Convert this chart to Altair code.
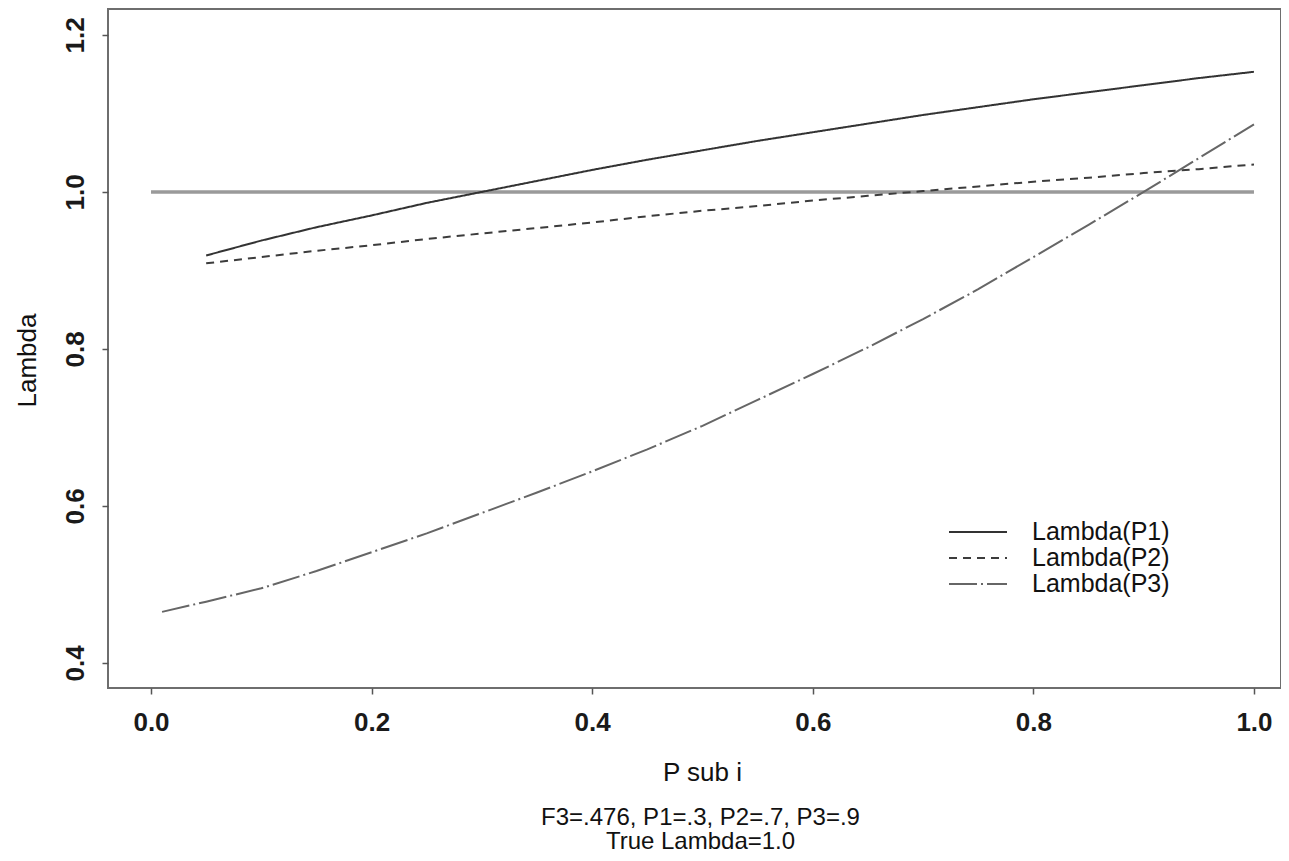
import altair as alt
import pandas as pd

# ---- data ----
x_main = [0.05, 0.10, 0.15, 0.20, 0.25, 0.30, 0.35, 0.40, 0.45, 0.50,
          0.55, 0.60, 0.65, 0.70, 0.75, 0.80, 0.85, 0.90, 0.95, 1.00]
lambda_p1 = [0.919, 0.938, 0.955, 0.970, 0.986, 1.000, 1.014, 1.028, 1.041, 1.053,
             1.065, 1.076, 1.087, 1.098, 1.108, 1.118, 1.127, 1.136, 1.145, 1.153]
lambda_p2 = [0.909, 0.917, 0.925, 0.932, 0.940, 0.947, 0.954, 0.961, 0.969, 0.976,
             0.982, 0.989, 0.995, 1.001, 1.007, 1.013, 1.018, 1.024, 1.029, 1.035]
x_p3 = [0.01, 0.05, 0.10, 0.15, 0.20, 0.25, 0.30, 0.35, 0.40, 0.45, 0.50,
        0.55, 0.60, 0.65, 0.70, 0.75, 0.80, 0.85, 0.90, 0.95, 1.00]
lambda_p3 = [0.465, 0.478, 0.495, 0.517, 0.541, 0.565, 0.591, 0.617, 0.644, 0.672, 0.702,
             0.735, 0.768, 0.802, 0.838, 0.876, 0.917, 0.958, 1.000, 1.043, 1.086]
true_x = [0.0, 1.0]
true_lambda = [1.0, 1.0]

series_names = ["Lambda(P1)", "Lambda(P2)", "Lambda(P3)"]
x_ticks = [0.0, 0.2, 0.4, 0.6, 0.8, 1.0]
y_ticks = [0.4, 0.6, 0.8, 1.0, 1.2]
x_title = "P sub i"
y_title = "Lambda"
notes = ["F3=.476, P1=.3, P2=.7, P3=.9", "True Lambda=1.0"]

# ---- tables ----
rows = []
for xv, yv in zip(x_main, lambda_p1):
    rows.append({"x": xv, "y": yv, "series": series_names[0]})
for xv, yv in zip(x_main, lambda_p2):
    rows.append({"x": xv, "y": yv, "series": series_names[1]})
for xv, yv in zip(x_p3, lambda_p3):
    rows.append({"x": xv, "y": yv, "series": series_names[2]})
df = pd.DataFrame(rows)
df_true = pd.DataFrame({"x": true_x, "y": true_lambda})

FONT = "Liberation Sans"
FS = 26
W, H = 1173, 679

xscale = alt.Scale(domain=[-0.039, 1.0245], nice=False, zero=False)
yscale = alt.Scale(domain=[0.368, 1.233], nice=False, zero=False)

xaxis = alt.Axis(values=x_ticks, format=".1f", title=x_title, grid=False, domain=False,
                 tickColor="#555", tickWidth=1.5, tickSize=6,
                 labelFont=FONT, labelFontSize=FS, labelFontWeight="bold", labelColor="#1a1a1a",
                 labelBaseline="top", labelPadding=15,
                 titleFont=FONT, titleFontSize=FS, titleFontWeight="normal", titleColor="#111",
                 titleX=594, titleY=84, titleBaseline="middle", titleAnchor="middle")
yaxis = alt.Axis(values=y_ticks, format=".1f", title=y_title, grid=False, domain=False,
                 tickColor="#555", tickWidth=1.5, tickSize=6,
                 labelFont=FONT, labelFontSize=FS, labelFontWeight="bold", labelColor="#1a1a1a",
                 labelAngle=270, labelAlign="center", labelBaseline="bottom", labelPadding=14,
                 titleFont=FONT, titleFontSize=FS, titleFontWeight="normal", titleColor="#111",
                 titleAngle=270, titleX=-81, titleY=351, titleBaseline="middle", titleAlign="center")

true_line = alt.Chart(df_true).mark_line(color="#9a9a9a", strokeWidth=3.5).encode(
    x=alt.X("x:Q", scale=xscale, axis=xaxis),
    y=alt.Y("y:Q", scale=yscale, axis=yaxis),
)

legend = alt.Legend(title=None, clipHeight=26, rowPadding=0)
curves = alt.Chart(df).mark_line(strokeWidth=2).encode(
    x=alt.X("x:Q", scale=xscale, axis=xaxis),
    y=alt.Y("y:Q", scale=yscale, axis=yaxis),
    color=alt.Color("series:N", scale=alt.Scale(domain=series_names,
                                                range=["#333333", "#3c3c3c", "#666666"]),
                    legend=legend),
    strokeDash=alt.StrokeDash("series:N", scale=alt.Scale(domain=series_names,
                                                          range=[[1, 0], [8, 6], [28, 4, 2, 4]]),
                              legend=legend),
    detail="series:N",
)

chart = alt.layer(true_line, curves).properties(
    width=W, height=H,
    background="white",
    autosize=alt.AutoSizeParams(type="none"),
    padding={"left": 100, "top": 1, "right": 0, "bottom": 165},
    title=alt.TitleParams(text=notes, orient="bottom", anchor="middle", font=FONT,
                          fontSize=24, fontWeight="normal", color="#111", lineHeight=24,
                          offset=21, dx=6),
).configure_view(
    stroke="#6e6e6e", strokeWidth=2
).configure_legend(
    orient="none", legendX=840, legendY=510, padding=0,
    symbolType="stroke", symbolSize=3364, symbolStrokeWidth=2,
    labelFont=FONT, labelFontSize=25, labelColor="#111", labelOffset=24,
)

chart.save("out.html", embed_options={"renderer": "svg", "actions": False})
